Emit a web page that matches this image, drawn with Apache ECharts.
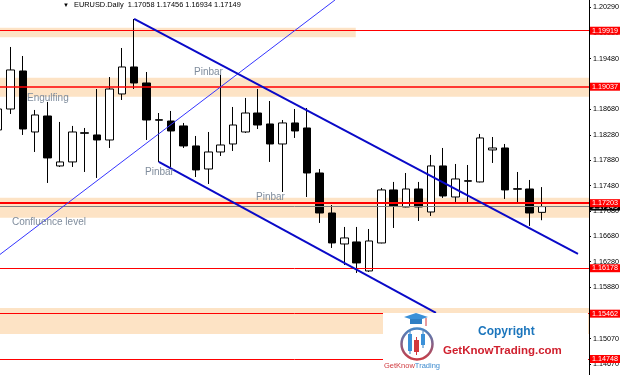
<!DOCTYPE html>
<html>
<head>
<meta charset="utf-8">
<script src="https://cdn.jsdelivr.net/npm/echarts@6/dist/echarts.min.js"></script>
<style>
html, body { margin: 0; padding: 0; background: #fff; }
#chart { width: 625px; height: 375px; }
</style>
</head>
<body>
<div id="chart"></div>
<script>
// EURUSD daily candles (oldest first)
const opens  = [1.18356, 1.18686, 1.19285, 1.18324, 1.18576, 1.17789, 1.17852, 1.18312, 1.18277, 1.18198,
                1.18923, 1.19348, 1.19096, 1.18517, 1.18497, 1.18419, 1.18104, 1.17741, 1.18009, 1.18135,
                1.18324, 1.18623, 1.18450, 1.18135, 1.18466, 1.18387, 1.17678, 1.17048, 1.16560, 1.16592,
                1.16135, 1.16576, 1.17411, 1.17143, 1.17426, 1.17064, 1.17789, 1.17300, 1.17556, 1.17537,
                1.18041, 1.18072, 1.17430, 1.17426, 1.17058];
const closes = [1.18686, 1.19301, 1.18371, 1.18592, 1.17915, 1.17852, 1.18324, 1.18304, 1.18198, 1.19001,
                1.19348, 1.19096, 1.18513, 1.18510, 1.18340, 1.18104, 1.17726, 1.18009, 1.18119, 1.18434,
                1.18623, 1.18434, 1.18135, 1.18466, 1.18340, 1.17678, 1.17048, 1.16576, 1.16655, 1.16261,
                1.16607, 1.17411, 1.17159, 1.17426, 1.17143, 1.17789, 1.17316, 1.17584, 1.17549, 1.18230,
                1.18072, 1.17411, 1.17423, 1.17048, 1.17149];
const lows   = [1.18277, 1.18608, 1.18277, 1.18009, 1.17521, 1.17773, 1.17773, 1.17694, 1.17600, 1.18072,
                1.18828, 1.19001, 1.18198, 1.17852, 1.17773, 1.18072, 1.17615, 1.17505, 1.17946, 1.18025,
                1.18308, 1.18371, 1.17852, 1.17379, 1.18230, 1.17300, 1.16891, 1.16497, 1.16229, 1.16103,
                1.16119, 1.16570, 1.16812, 1.17138, 1.16922, 1.17001, 1.17285, 1.17222, 1.17206, 1.17530,
                1.17836, 1.17269, 1.17206, 1.16844, 1.16934];
const highs  = [1.18828, 1.19663, 1.19521, 1.18671, 1.18797, 1.18482, 1.18419, 1.18387, 1.19001, 1.19190,
                1.19647, 1.20104, 1.19269, 1.18623, 1.18655, 1.18466, 1.18261, 1.18324, 1.19222, 1.18718,
                1.18860, 1.19001, 1.18812, 1.18513, 1.18686, 1.18702, 1.17741, 1.17174, 1.16828, 1.16828,
                1.16796, 1.17442, 1.17537, 1.17678, 1.17537, 1.17962, 1.18072, 1.17820, 1.17804, 1.18293,
                1.18245, 1.18135, 1.17694, 1.17568, 1.17456];

// price scale labels on the right
const tickValues = [1.20290, 1.19880, 1.19480, 1.18680, 1.18280, 1.17880, 1.17480, 1.17080,
                    1.16680, 1.16280, 1.15880, 1.15070, 1.14670];

// horizontal levels (red) and current bid
const levels = [1.19919, 1.19037, 1.17203, 1.16178, 1.15462, 1.14748];
const bid = 1.17149;

// shaded zones: [upper price, lower price, last bar index or null for full width]
const zones = [
    [1.19967, 1.19816, 28.93],
    [1.19179, 1.18880, null],
    [1.17289, 1.16974, null],
    [1.15552, 1.15143, null]
];

// trend lines [bar index, price]
const thinLine    = [[0.15, 1.16395], [27.25, 1.20403]];
const channelTop  = [[11, 1.20104], [46.91, 1.16403]];
const channelLow  = [[13, 1.17852], [35.42, 1.15473]];

const candles = opens.map((o, i) => [i, o, closes[i], lows[i], highs[i]]);

const FONT = 'Liberation Sans';
const chart = echarts.init(document.getElementById('chart'));

const priceLabel = (bg) => ({
    position: 'end',
    distance: 1,
    formatter: p => Number(p.value).toFixed(5),
    color: '#fff',
    backgroundColor: bg,
    fontFamily: FONT,
    fontSize: 7.2,
    lineHeight: 8,
    padding: [0, 2, 0, 2]
});

const option = {
    animation: false,
    backgroundColor: '#fff',
    grid: { left: 0, right: 36, top: 0, bottom: 0, outerBoundsMode: 'none' },
    xAxis: { type: 'value', min: 0.15, max: 47.8, show: false },
    yAxis: {
        type: 'value',
        position: 'right',
        min: 1.14496,
        max: 1.20403,
        splitLine: { show: false },
        axisLine: { show: true, onZero: false, lineStyle: { color: '#000', width: 1 } },
        axisTick: { show: true, length: 2, lineStyle: { color: '#000' }, customValues: tickValues },
        axisLabel: {
            customValues: tickValues,
            formatter: v => v.toFixed(5),
            color: '#000',
            fontFamily: FONT,
            fontSize: 7.2,
            margin: 4
        }
    },
    series: [
        {
            name: 'zones',
            type: 'line',
            data: [],
            markArea: {
                silent: true,
                itemStyle: { color: '#fde3c5' },
                data: zones.map(z => z[2] == null
                    ? [{ yAxis: z[0] }, { yAxis: z[1] }]
                    : [{ xAxis: 0.15, yAxis: z[0] }, { xAxis: z[2], yAxis: z[1] }])
            }
        },
        {
            name: 'bid',
            type: 'line',
            data: [],
            markLine: {
                silent: true,
                symbol: 'none',
                precision: 5,
                lineStyle: { type: 'solid', color: '#808080', width: 1 },
                label: priceLabel('#000'),
                data: [{ yAxis: bid }]
            }
        },
        {
            name: 'EURUSD',
            type: 'candlestick',
            data: candles,
            barWidth: 8,
            silent: true,
            z: 3,
            itemStyle: {
                color: '#fff',
                color0: '#000',
                borderColor: '#000',
                borderColor0: '#000',
                borderWidth: 1
            }
        },
        {
            name: 'levels',
            type: 'line',
            data: [],
            markLine: {
                silent: true,
                symbol: 'none',
                precision: 5,
                lineStyle: { type: 'solid', color: '#ff0000', width: 1 },
                label: priceLabel('#ff0000'),
                data: levels.map(v => ({ yAxis: v, lineStyle: { width: v === 1.17203 ? 2 : (v === 1.19037 ? 1.5 : 1) } }))
            }
        },
        {
            type: 'line', data: thinLine, symbol: 'none', silent: true, z: 6,
            lineStyle: { color: '#3535ff', width: 1 }
        },
        {
            type: 'line', data: channelTop, symbol: 'none', silent: true, z: 6,
            lineStyle: { color: '#0a0ac8', width: 2 }
        },
        {
            type: 'line', data: channelLow, symbol: 'none', silent: true, z: 6,
            lineStyle: { color: '#0a0ac8', width: 2 }
        }
    ],
    graphic: [
        // header
        { type: 'text', z: 100, left: 63, top: 2, style: { text: '▼', fontSize: 6, fill: '#000', fontFamily: FONT } },
        { type: 'text', z: 100, left: 74, top: 1, style: { text: 'EURUSD.Daily  1.17058 1.17456 1.16934 1.17149', fontSize: 7.4, fill: '#000', fontFamily: FONT } },
        // annotations
        { type: 'text', z: 100, x: 27, y: 98.5, style: { text: 'Engulfing', fontSize: 10, fill: '#7f8c9c', fontFamily: FONT, verticalAlign: 'middle' } },
        { type: 'text', z: 100, x: 194, y: 72.5, style: { text: 'Pinbar', fontSize: 10, fill: '#7f8c9c', fontFamily: FONT, verticalAlign: 'middle' } },
        { type: 'text', z: 100, x: 145, y: 172.5, style: { text: 'Pinbar', fontSize: 10, fill: '#7f8c9c', fontFamily: FONT, verticalAlign: 'middle' } },
        { type: 'text', z: 100, x: 256, y: 197, style: { text: 'Pinbar', fontSize: 10, fill: '#7f8c9c', fontFamily: FONT, verticalAlign: 'middle' } },
        { type: 'text', z: 100, x: 12, y: 222, style: { text: 'Confluence level', fontSize: 10, fill: '#7f8c9c', fontFamily: FONT, verticalAlign: 'middle' } },
        // watermark logo
        { type: 'rect', z: 100, shape: { x: 383, y: 313, width: 205, height: 62 }, style: { fill: '#fff' } },
        { type: 'circle', z: 101, shape: { cx: 417, cy: 344, r: 15.5 },
          style: { fill: 'none', lineWidth: 2.5,
                   stroke: new echarts.graphic.LinearGradient(0, 0, 0, 1, [{ offset: 0, color: '#3d8bcf' }, { offset: 1, color: '#d2373c' }]) } },
        { type: 'polygon', z: 102, shape: { points: [[404, 317], [416, 313], [428, 317], [416, 321]] }, style: { fill: '#3a90d8' } },
        { type: 'rect', z: 102, shape: { x: 410, y: 319, width: 12, height: 5 }, style: { fill: '#2f7fc4' } },
        { type: 'line', z: 102, shape: { x1: 426, y1: 318, x2: 426, y2: 326 }, style: { stroke: '#d2373c', lineWidth: 1 } },
        { type: 'line', z: 102, shape: { x1: 410, y1: 331, x2: 410, y2: 354 }, style: { stroke: '#2f7fc4', lineWidth: 1 } },
        { type: 'rect', z: 102, shape: { x: 408, y: 334, width: 4, height: 17 }, style: { fill: '#3a90d8' } },
        { type: 'line', z: 102, shape: { x1: 416.5, y1: 337, x2: 416.5, y2: 355 }, style: { stroke: '#d2373c', lineWidth: 1 } },
        { type: 'rect', z: 102, shape: { x: 414, y: 340, width: 5, height: 12 }, style: { fill: '#d2373c' } },
        { type: 'line', z: 102, shape: { x1: 423, y1: 331, x2: 423, y2: 348 }, style: { stroke: '#2f7fc4', lineWidth: 1 } },
        { type: 'rect', z: 102, shape: { x: 421, y: 334, width: 4, height: 11 }, style: { fill: '#3a90d8' } },
        { type: 'text', z: 102, x: 384, y: 366, style: {
            text: '{r|GetKnow}{b|Trading}', verticalAlign: 'middle',
            rich: { r: { fill: '#d0393e', fontSize: 7.5, fontFamily: FONT }, b: { fill: '#3d8bcf', fontSize: 7.5, fontFamily: FONT } } } },
        { type: 'text', z: 102, x: 478, y: 332, style: { text: 'Copyright', fontSize: 12, fontWeight: 'bold', fill: '#1b75bc', fontFamily: FONT, verticalAlign: 'middle' } },
        { type: 'text', z: 102, x: 443, y: 351, style: { text: 'GetKnowTrading.com', fontSize: 11.5, fontWeight: 'bold', fill: '#d0202e', fontFamily: FONT, verticalAlign: 'middle' } }
    ]
};

chart.setOption(option);
</script>
</body>
</html>
